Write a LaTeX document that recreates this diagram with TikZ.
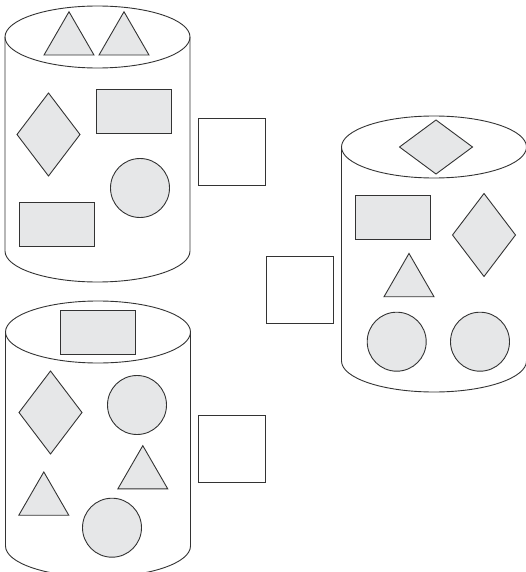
\documentclass[tikz,border=0pt]{standalone}
\usepackage{tikz}
\usetikzlibrary{shapes.geometric}
\definecolor{ink}{HTML}{333333}
\definecolor{chalk}{HTML}{E6E7E8}

\begin{document}
\begin{tikzpicture}[
x=1pt, y=-1pt,
piece/.style={draw=ink, fill=chalk, line width=0.9pt, inner sep=0pt, outer sep=0pt},
slab/.style={piece, rectangle, minimum width=75pt, minimum height=44pt},
kite/.style={piece, diamond, minimum width=63pt, minimum height=83pt},
flatkite/.style={piece, diamond, minimum width=73pt, minimum height=54pt},
ball/.style={piece, circle, minimum size=59pt},
tri/.style={piece, regular polygon, regular polygon sides=3, minimum size=57.7pt},
answer/.style={draw=ink, line width=0.9pt, minimum size=67pt, inner sep=0pt},
can/.pic={
  \draw[ink, line width=0.9pt] (0,0) ellipse [x radius=92.5pt, y radius=31pt];
  \draw[ink, line width=0.9pt] (-92.5,0) -- (-92.5,214)
    arc [start angle=180, end angle=360, x radius=92.5pt, y radius=31pt] -- (92.5,0);
}
]
\useasboundingbox (0,0) rectangle (525,572);

% first can
\pic at (97.5,37) {can};
\node[tri] (canA-tri1) at (69,40.6) {};
\node[tri] (canA-tri2) at (124,40.6) {};
\node[kite] (canA-kite) at (48.5,134.5) {};
\node[slab] (canA-slab1) at (134,111) {};
\node[ball] (canA-ball) at (140,188) {};
\node[slab] (canA-slab2) at (56.5,224.5) {};
\node[answer] (boxA) at (231.5,151.5) {};

% second can
\pic at (434,147) {can};
\node[flatkite] (canB-top) at (436,147) {};
\node[slab] (canB-slab) at (393.4,217.8) {};
\node[kite] (canB-kite) at (484,235) {};
\node[tri] (canB-tri) at (409,282.3) {};
\node[ball] (canB-ball1) at (396.7,341.7) {};
\node[ball] (canB-ball2) at (480,341.7) {};
\node[answer] (boxB) at (299.7,290) {};

% third can
\pic at (98,332) {can};
\node[slab] (canC-slab) at (97.8,332.3) {};
\node[kite] (canC-kite) at (50.5,412.5) {};
\node[ball] (canC-ball1) at (137,405) {};
\node[tri] (canC-tri1) at (142.8,474.5) {};
\node[tri] (canC-tri2) at (43.8,500.8) {};
\node[ball] (canC-ball2) at (112,527.7) {};
\node[answer] (boxC) at (232.2,448.8) {};
\end{tikzpicture}
\end{document}
